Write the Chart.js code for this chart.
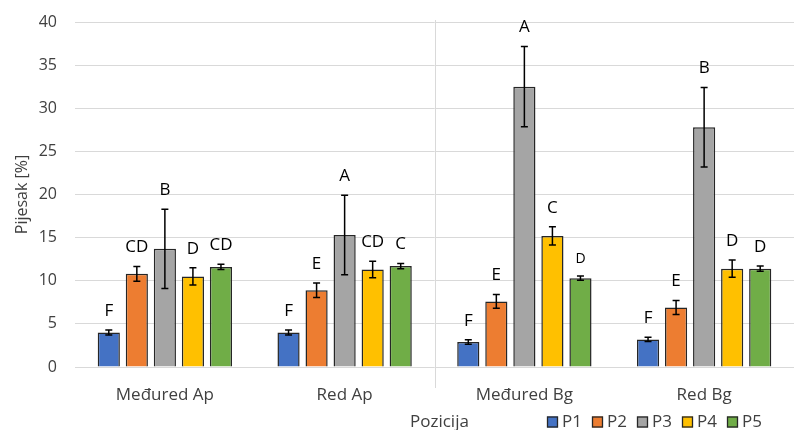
<!DOCTYPE html>
<html>
<head>
<meta charset="utf-8">
<script src="https://cdn.jsdelivr.net/npm/chart.js@4.4.1/dist/chart.umd.min.js"></script>
<style>
html,body{margin:0;padding:0;background:#fff;}
#wrap{width:794px;height:430px;position:relative;}
</style>
</head>
<body>
<div id="wrap"><canvas id="c" width="794" height="430"></canvas></div>
<script>
const categories = ['Međured Ap', 'Red Ap', 'Međured Bg', 'Red Bg'];
const seriesNames = ['P1', 'P2', 'P3', 'P4', 'P5'];
const p1 = [4.0, 4.0, 2.9, 3.2];
const p2 = [10.8, 8.9, 7.6, 6.9];
const p3 = [13.7, 15.3, 32.5, 27.8];
const p4 = [10.5, 11.3, 15.2, 11.4];
const p5 = [11.6, 11.7, 10.3, 11.4];
const p1Err = [0.3, 0.3, 0.25, 0.25];
const p2Err = [0.85, 0.85, 0.8, 0.8];
const p3Err = [4.6, 4.6, 4.65, 4.6];
const p4Err = [1.0, 0.95, 1.05, 1.0];
const p5Err = [0.3, 0.3, 0.25, 0.3];
const p1Letters = ['F', 'F', 'F', 'F'];
const p2Letters = ['CD', 'E', 'E', 'E'];
const p3Letters = ['B', 'A', 'A', 'B'];
const p4Letters = ['D', 'CD', 'C', 'D'];
const p5Letters = ['CD', 'C', 'D', 'D'];
const yTicks = [0, 5, 10, 15, 20, 25, 30, 35, 40];
const yTitle = 'Pijesak [%]';
const xTitle = 'Pozicija';

const colors = ['#4472C4', '#ED7D31', '#A5A5A5', '#FFC000', '#70AD47'];
const values = [p1, p2, p3, p4, p5];
const errs = [p1Err, p2Err, p3Err, p4Err, p5Err];
const letters = [p1Letters, p2Letters, p3Letters, p4Letters, p5Letters];
const FONT = '"Open Sans", sans-serif';
const TXT = '#404040';

const datasets = seriesNames.map((n, i) => ({
  label: n,
  data: values[i],
  backgroundColor: colors[i],
  borderColor: '#262626',
  borderWidth: 1.5,
  categoryPercentage: 0.78,
  barPercentage: 0.79,
  errs: errs[i],
  letters: letters[i]
}));

const extras = {
  id: 'extras',
  afterDatasetsDraw(chart) {
    const ctx = chart.ctx;
    const ys = chart.scales.y;
    const xs = chart.scales.x;
    const area = chart.chartArea;
    // category separator
    ctx.save();
    const sx = Math.round((xs.getPixelForValue(1) + xs.getPixelForValue(2)) / 2) + 0.5;
    ctx.strokeStyle = '#d9d9d9';
    ctx.lineWidth = 1;
    ctx.beginPath();
    ctx.moveTo(sx, area.top - 2);
    ctx.lineTo(sx, area.bottom + 21);
    ctx.stroke();
    ctx.restore();
    // error bars and letters
    chart.data.datasets.forEach((ds, di) => {
      const meta = chart.getDatasetMeta(di);
      meta.data.forEach((bar, j) => {
        const v = ds.data[j], e = ds.errs[j];
        const x = bar.x;
        const yt = ys.getPixelForValue(v + e);
        const yb = ys.getPixelForValue(v - e);
        ctx.save();
        ctx.strokeStyle = '#000';
        ctx.lineWidth = 1.5;
        ctx.beginPath();
        ctx.moveTo(x, yt); ctx.lineTo(x, yb);
        ctx.moveTo(x - 3.5, yt); ctx.lineTo(x + 3.5, yt);
        ctx.moveTo(x - 3.5, yb); ctx.lineTo(x + 3.5, yb);
        ctx.stroke();
        const small = (di === 4 && j === 2);
        ctx.fillStyle = '#000';
        ctx.font = (small ? '14px ' : '17px ') + FONT;
        ctx.textAlign = 'center';
        ctx.textBaseline = 'middle';
        ctx.fillText(ds.letters[j], x, yt - (small ? 17 : 19));
        ctx.restore();
      });
    });
    // x title + legend
    const ly = 422;
    ctx.save();
    ctx.fillStyle = TXT;
    ctx.font = '17px ' + FONT;
    ctx.textAlign = 'left';
    ctx.textBaseline = 'middle';
    ctx.fillText(xTitle, 410, ly);
    chart.data.datasets.forEach((ds, i) => {
      const bx = 547 + i * 45;
      ctx.fillStyle = ds.backgroundColor;
      ctx.fillRect(bx, ly - 5.5, 11, 11);
      ctx.strokeStyle = '#262626';
      ctx.lineWidth = 1.3;
      ctx.strokeRect(bx + 0.5, ly - 5, 10, 10);
      ctx.fillStyle = TXT;
      ctx.fillText(ds.label, bx + 15, ly);
    });
    ctx.restore();
  }
};

new Chart(document.getElementById('c'), {
  type: 'bar',
  data: { labels: categories, datasets },
  options: {
    responsive: false,
    animation: false,
    devicePixelRatio: 1,
    layout: { padding: { top: 22, right: 0, left: 0, bottom: 0 } },
    plugins: {
      tooltip: { enabled: false },
      legend: { display: false }
    },
    scales: {
      x: {
        grid: { display: false, drawTicks: false },
        border: { display: false },
        ticks: { color: TXT, font: { family: FONT, size: 17 }, padding: 18 },
        afterFit(s) { s.height = 63; s.paddingLeft = 0; s.paddingRight = 0; }
      },
      y: {
        min: 0, max: 40,
        afterBuildTicks(s) { s.ticks = yTicks.map(v => ({ value: v })); },
        grid: { color: '#d9d9d9', lineWidth: 1, drawTicks: false },
        border: { display: false },
        ticks: { color: TXT, font: { family: FONT, size: 16 }, padding: 18 },
        title: { display: true, text: yTitle, color: TXT, font: { family: FONT, size: 16 }, padding: { top: 13, bottom: 4 } },
        afterFit(s) { s.width = 75; s.paddingTop = 0; s.paddingBottom = 0; }
      }
    }
  },
  plugins: [extras]
});
</script>
</body>
</html>
